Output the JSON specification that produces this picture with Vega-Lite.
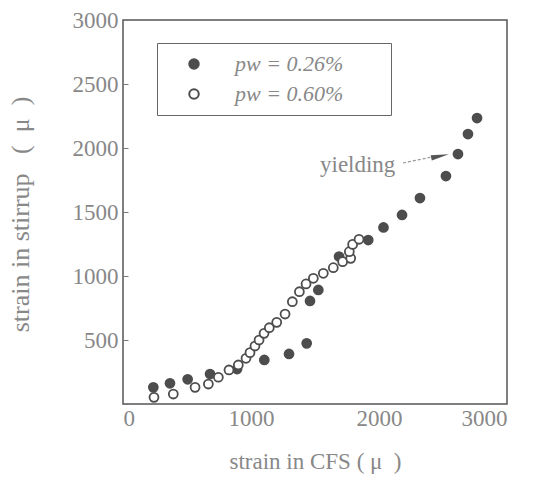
{
  "$schema": "https://vega.github.io/schema/vega-lite/v6.json",
  "width": 384,
  "height": 384,
  "autosize": {"type": "none"},
  "padding": {"left": 123, "top": 20, "right": 31, "bottom": 82},
  "background": "white",
  "config": {
    "view": {"stroke": "#555", "strokeWidth": 1.5},
    "axis": {
      "grid": false,
      "domain": false,
      "format": "d",
      "labelFont": "Liberation Serif",
      "labelFontSize": 23,
      "labelColor": "#888",
      "titleFont": "Liberation Serif",
      "titleFontSize": 23,
      "titleFontWeight": "normal",
      "titleColor": "#888"
    },
    "legend": {
      "labelFont": "Liberation Serif",
      "labelFontStyle": "italic",
      "labelFontSize": 22,
      "labelColor": "#888"
    }
  },
  "layer": [
    {
      "data": {
        "values": [
          {"cfs": 237, "stirrup": 130, "series": "pw = 0.26%"},
          {"cfs": 367, "stirrup": 162, "series": "pw = 0.26%"},
          {"cfs": 505, "stirrup": 193, "series": "pw = 0.26%"},
          {"cfs": 680, "stirrup": 234, "series": "pw = 0.26%"},
          {"cfs": 891, "stirrup": 273, "series": "pw = 0.26%"},
          {"cfs": 1104, "stirrup": 344, "series": "pw = 0.26%"},
          {"cfs": 1297, "stirrup": 391, "series": "pw = 0.26%"},
          {"cfs": 1435, "stirrup": 474, "series": "pw = 0.26%"},
          {"cfs": 1461, "stirrup": 805, "series": "pw = 0.26%"},
          {"cfs": 1526, "stirrup": 891, "series": "pw = 0.26%"},
          {"cfs": 1688, "stirrup": 1152, "series": "pw = 0.26%"},
          {"cfs": 1916, "stirrup": 1281, "series": "pw = 0.26%"},
          {"cfs": 2035, "stirrup": 1379, "series": "pw = 0.26%"},
          {"cfs": 2180, "stirrup": 1477, "series": "pw = 0.26%"},
          {"cfs": 2320, "stirrup": 1609, "series": "pw = 0.26%"},
          {"cfs": 2523, "stirrup": 1781, "series": "pw = 0.26%"},
          {"cfs": 2617, "stirrup": 1953, "series": "pw = 0.26%"},
          {"cfs": 2695, "stirrup": 2109, "series": "pw = 0.26%"},
          {"cfs": 2766, "stirrup": 2234, "series": "pw = 0.26%"},
          {"cfs": 242, "stirrup": 52, "series": "pw = 0.60%"},
          {"cfs": 393, "stirrup": 78, "series": "pw = 0.60%"},
          {"cfs": 563, "stirrup": 130, "series": "pw = 0.60%"},
          {"cfs": 667, "stirrup": 156, "series": "pw = 0.60%"},
          {"cfs": 745, "stirrup": 209, "series": "pw = 0.60%"},
          {"cfs": 828, "stirrup": 266, "series": "pw = 0.60%"},
          {"cfs": 901, "stirrup": 305, "series": "pw = 0.60%"},
          {"cfs": 961, "stirrup": 357, "series": "pw = 0.60%"},
          {"cfs": 992, "stirrup": 401, "series": "pw = 0.60%"},
          {"cfs": 1031, "stirrup": 453, "series": "pw = 0.60%"},
          {"cfs": 1063, "stirrup": 500, "series": "pw = 0.60%"},
          {"cfs": 1102, "stirrup": 552, "series": "pw = 0.60%"},
          {"cfs": 1143, "stirrup": 596, "series": "pw = 0.60%"},
          {"cfs": 1201, "stirrup": 638, "series": "pw = 0.60%"},
          {"cfs": 1266, "stirrup": 703, "series": "pw = 0.60%"},
          {"cfs": 1323, "stirrup": 799, "series": "pw = 0.60%"},
          {"cfs": 1378, "stirrup": 877, "series": "pw = 0.60%"},
          {"cfs": 1430, "stirrup": 938, "series": "pw = 0.60%"},
          {"cfs": 1487, "stirrup": 982, "series": "pw = 0.60%"},
          {"cfs": 1565, "stirrup": 1021, "series": "pw = 0.60%"},
          {"cfs": 1643, "stirrup": 1065, "series": "pw = 0.60%"},
          {"cfs": 1716, "stirrup": 1112, "series": "pw = 0.60%"},
          {"cfs": 1779, "stirrup": 1138, "series": "pw = 0.60%"},
          {"cfs": 1768, "stirrup": 1190, "series": "pw = 0.60%"},
          {"cfs": 1794, "stirrup": 1247, "series": "pw = 0.60%"},
          {"cfs": 1844, "stirrup": 1287, "series": "pw = 0.60%"}
        ]
      },
      "mark": {"type": "circle", "size": 80, "stroke": "#4d4d4d", "strokeWidth": 1.8, "opacity": 1},
      "encoding": {
        "x": {
          "field": "cfs", "type": "quantitative",
          "scale": {"domain": [0, 3000], "nice": false},
          "axis": {"values": [0, 1000, 2000, 3000], "ticks": false, "labelPadding": 3, "title": "strain in CFS (\u00a0μ\u00a0\u00a0)", "titlePadding": 20}
        },
        "y": {
          "field": "stirrup", "type": "quantitative",
          "scale": {"domain": [0, 3000], "nice": false},
          "axis": {
            "values": [0, 250, 500, 750, 1000, 1250, 1500, 1750, 2000, 2250, 2500, 2750, 3000],
            "labelExpr": "datum.value % 500 == 0 && datum.value > 0 ? datum.label : ''",
            "tickSize": -5, "tickColor": "#777", "labelPadding": 10,
            "title": "strain in stirrup\u00a0\u00a0\u00a0(\u00a0\u00a0μ\u00a0\u00a0)", "titleFontSize": 26, "titleX": -90, "titleY": 194
          }
        },
        "fill": {
          "field": "series", "type": "nominal",
          "scale": {"domain": ["pw = 0.26%", "pw = 0.60%"], "range": ["#4d4d4d", "#ffffff"]},
          "legend": {
            "title": null, "orient": "none", "legendX": 34, "legendY": 23,
            "symbolType": "circle", "symbolSize": 90, "symbolStrokeColor": "#4d4d4d", "symbolStrokeWidth": 2,
            "symbolOffset": 16, "labelOffset": 30, "rowPadding": 8, "padding": 10, "labelLimit": 300,
            "strokeColor": "#666", "fillColor": "white",
            "labelExpr": "datum.label + '\u2003\u2002\u2009\u200b'"
          }
        }
      }
    },
    {
      "data": {"values": [{"cfs": 1539, "stirrup": 1867, "label": "yielding"}]},
      "mark": {"type": "text", "align": "left", "baseline": "middle", "font": "Liberation Serif", "fontSize": 23, "color": "#888"},
      "encoding": {
        "x": {"field": "cfs", "type": "quantitative"},
        "y": {"field": "stirrup", "type": "quantitative"},
        "text": {"field": "label"}
      }
    },
    {
      "data": {"values": [{"x1": 2188, "y1": 1883, "x2": 2414, "y2": 1930}]},
      "mark": {"type": "rule", "strokeDash": [3, 2], "color": "#999", "strokeWidth": 1.2},
      "encoding": {
        "x": {"field": "x1", "type": "quantitative"},
        "y": {"field": "y1", "type": "quantitative"},
        "x2": {"field": "x2"},
        "y2": {"field": "y2"}
      }
    },
    {
      "data": {"values": [{"cfs": 2477, "stirrup": 1937}]},
      "mark": {"type": "point", "shape": "M-1,-0.3L1,0L-1,0.3Z", "size": 324, "filled": true, "color": "#555", "opacity": 1, "angle": -12},
      "encoding": {
        "x": {"field": "cfs", "type": "quantitative"},
        "y": {"field": "stirrup", "type": "quantitative"}
      }
    }
  ]
}
